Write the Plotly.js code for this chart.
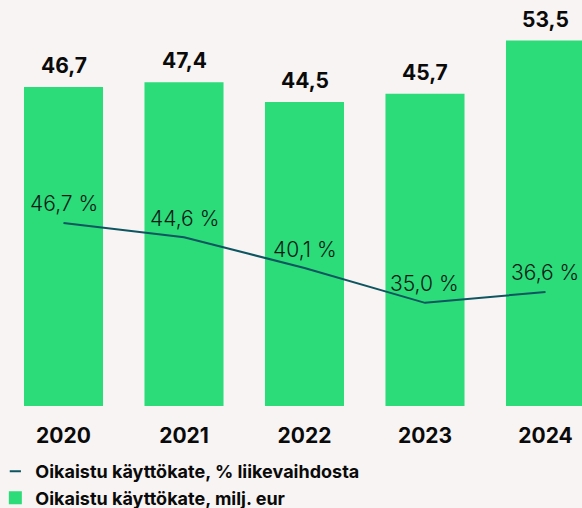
<!DOCTYPE html>
<html>
<head>
<meta charset="utf-8">
<script src="https://cdn.plot.ly/plotly-3.0.1.min.js"></script>
<style>
html,body{margin:0;padding:0;background:#f8f4f3;}
#chart{width:582px;height:508px;}
</style>
</head>
<body>
<div id="chart"></div>
<script>
// Data
const years = ["2020", "2021", "2022", "2023", "2024"];
const ebitdaMeur = [46.7, 47.4, 44.5, 45.7, 53.5];
const ebitdaPct = [46.7, 44.6, 40.1, 35.0, 36.6];
const barName = "Oikaistu käyttökate, milj. eur";
const lineName = "Oikaistu käyttökate, % liikevaihdosta";

const fmt = v => v.toFixed(1).replace(".", ",");
const FONT = "Inter, 'Noto Sans', sans-serif";
const GREEN = "#2bdc78";
const TEAL = "#0d5560";

const barTrace = {
  type: "bar",
  x: years,
  y: ebitdaMeur,
  name: barName,
  marker: {color: GREEN},
  width: 0.656,
  showlegend: false,
  hoverinfo: "skip"
};

const lineTrace = {
  type: "scatter",
  mode: "lines",
  x: years,
  y: ebitdaPct,
  yaxis: "y2",
  name: lineName,
  line: {color: TEAL, width: 2},
  showlegend: false,
  hoverinfo: "skip"
};

// legend-only entries
const lineLegend = {
  type: "scatter", mode: "markers", x: [null], y: [null], yaxis: "y2",
  name: lineName,
  marker: {symbol: "line-ew", size: 8, color: TEAL, line: {color: TEAL, width: 2}},
  showlegend: true
};
const barLegend = {
  type: "scatter", mode: "markers", x: [null], y: [null],
  name: barName,
  marker: {symbol: "square", size: 13, color: GREEN},
  showlegend: true
};

const annotations = [];
years.forEach((yr, i) => {
  annotations.push({
    x: i, y: ebitdaMeur[i], xref: "x", yref: "y",
    text: fmt(ebitdaMeur[i]), showarrow: false,
    yanchor: "bottom", yshift: 7,
    font: {family: FONT, size: 21, color: "#0a0a0a", weight: 700}
  });
  annotations.push({
    x: i, y: ebitdaPct[i], xref: "x", yref: "y2",
    text: fmt(ebitdaPct[i]) + " %", showarrow: false,
    yanchor: "middle", yshift: 19,
    font: {family: FONT, size: 21, color: "#0a1a1a", weight: 300}
  });
});

const layout = {
  width: 582, height: 508,
  margin: {l: 0, r: 0, t: 20, b: 102, autoexpand: false},
  paper_bgcolor: "#f8f4f3",
  plot_bgcolor: "#f8f4f3",
  font: {family: FONT, color: "#0a0a0a"},
  xaxis: {
    type: "category",
    range: [-0.527, 4.303],
    showgrid: false, zeroline: false, showline: false,
    ticks: "",
    tickfont: {family: FONT, size: 21, color: "#0a0a0a", weight: 700},
    ticklabelstandoff: 15
  },
  yaxis: {
    range: [0, 56.5],
    visible: false, showgrid: false, zeroline: false
  },
  yaxis2: {
    range: [19.9, 76.4],
    overlaying: "y",
    visible: false, showgrid: false, zeroline: false
  },
  showlegend: true,
  legend: {
    x: -0.008, xanchor: "left",
    y: -0.122, yref: "paper", yanchor: "top",
    orientation: "v",
    font: {family: FONT, size: 18, color: "#0a0a0a", weight: 700},
    bgcolor: "rgba(0,0,0,0)",
    itemwidth: 30,
    tracegroupgap: 0
  },
  annotations: annotations,
  bargap: 0.3
};

Plotly.newPlot("chart", [barTrace, lineTrace, lineLegend, barLegend], layout, {displayModeBar: false, staticPlot: true});
</script>
</body>
</html>
